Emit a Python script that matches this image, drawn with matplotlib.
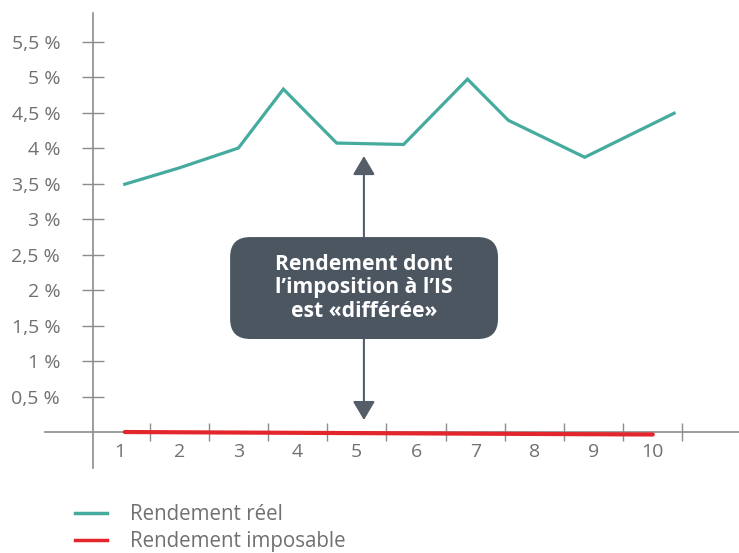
import matplotlib.pyplot as plt
from matplotlib.patches import FancyBboxPatch
from matplotlib.lines import Line2D

# Rendement réel (%) sur la période
reel_x = [1.08, 2.0, 3.0, 3.76, 4.66, 5.79, 6.87, 7.56, 8.85, 10.36]
reel_y = [3.49, 3.72, 4.0, 4.83, 4.07, 4.05, 4.97, 4.39, 3.87, 4.49]

# Rendement imposable (%)
impo_x = [1.08, 10.0]
impo_y = [0.0, -0.035]

x_labels = ['1', '2', '3', '4', '5', '6', '7', '8', '9', '10']
y_ticks = [0.5, 1, 1.5, 2, 2.5, 3, 3.5, 4, 4.5, 5, 5.5]
y_labels = ['0,5 %', '1 %', '1,5 %', '2 %', '2,5 %', '3 %', '3,5 %', '4 %', '4,5 %', '5 %', '5,5 %']

teal = '#45ab9e'
red = '#e3262b'
axis_gray = '#8c8c8c'
text_gray = '#707070'
box_color = '#4b5661'

plt.rcParams['font.family'] = ['Open Sans', 'DejaVu Sans']

fig = plt.figure(figsize=(7.39, 5.53), dpi=100)
ax = fig.add_axes([0, 0, 1, 1])
ax.set_xlim(-1.027, 11.456)
ax.set_ylim(-1.704, 6.085)
ax.patch.set_alpha(0)

# axes as crossing lines
for s in ['top', 'right']:
    ax.spines[s].set_visible(False)
ax.spines['left'].set_position(('data', 0.55))
ax.spines['left'].set_bounds(-0.507, 5.9)
ax.spines['bottom'].set_position(('data', 0))
ax.spines['bottom'].set_bounds(-0.27, 11.456)
for s in ['left', 'bottom']:
    ax.spines[s].set_color(axis_gray)
    ax.spines[s].set_linewidth(1.2)

ax.set_yticks(y_ticks)
ax.set_yticklabels(y_labels)
ax.tick_params(axis='y', direction='inout', length=15.8, width=1.0, color=axis_gray,
               pad=16, labelsize=14, labelcolor=text_gray)

ax.set_xticks(range(1, 11))
ax.set_xticklabels(x_labels)
ax.set_xticks([k + 0.5 for k in range(1, 11)], minor=True)
ax.tick_params(axis='x', which='major', length=0, pad=8, labelsize=14, labelcolor=text_gray)
ax.tick_params(axis='x', which='minor', direction='inout', length=13.5, width=1.0, color=axis_gray)

# series
ax.plot(reel_x, reel_y, color=teal, lw=2.3, solid_joinstyle='miter', zorder=4)
ax.plot(impo_x, impo_y, color=red, lw=3, solid_capstyle='round', zorder=4)

# annotation box
box = FancyBboxPatch((2.86, 1.31), 7.385 - 2.86, 2.746 - 1.31,
                     boxstyle='round,pad=0,rounding_size=0.34',
                     mutation_aspect=59.2 / 71, fc=box_color, ec='none', zorder=5)
ax.add_patch(box)
ax.text(5.12, 2.03, "Rendement dont\nl\u2019imposition à l\u2019IS\nest «différée»",
        ha='center', va='center', color='white', fontsize=15.2, fontweight='bold',
        linespacing=1.17, zorder=6)

arrow_kw = dict(arrowstyle='-|>,head_length=1.15,head_width=0.68', color='#545e68',
                lw=1.5, shrinkA=0, shrinkB=0, mutation_scale=10)
ax.annotate('', xy=(5.12, 3.887), xytext=(5.12, 2.746), arrowprops=arrow_kw, zorder=3)
ax.annotate('', xy=(5.12, 0.169), xytext=(5.12, 1.31), arrowprops=arrow_kw, zorder=3)

# legend
handles = [Line2D([], [], color=teal, lw=2.5), Line2D([], [], color=red, lw=2.5)]
fig.legend(handles, ['Rendement réel', 'Rendement imposable'], loc='upper left',
           bbox_to_anchor=(0.1015, 0.088), frameon=False, fontsize=14.8,
           handlelength=1.56, handletextpad=1.12, labelspacing=0.28,
           labelcolor=text_gray, borderaxespad=0, borderpad=0)

fig.savefig('out.png', dpi=100)
